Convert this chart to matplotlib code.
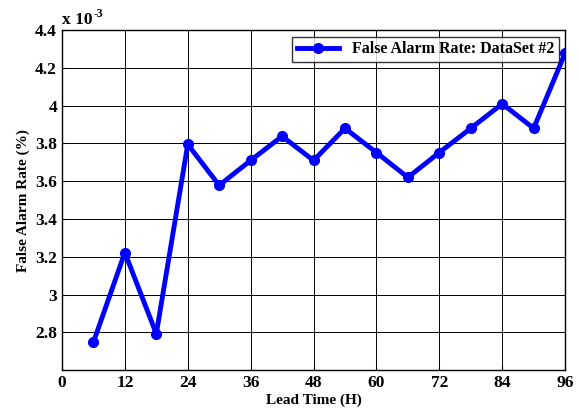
import matplotlib
matplotlib.use("Agg")
import matplotlib.pyplot as plt

lead_time = [6, 12, 18, 24, 30, 36, 42, 48, 54, 60, 66, 72, 78, 84, 90, 96]
far = [2.747, 3.222, 2.792, 3.795, 3.578, 3.710, 3.838, 3.710, 3.880, 3.752,
       3.620, 3.752, 3.880, 4.010, 3.880, 4.278]
xticks = [0, 12, 24, 36, 48, 60, 72, 84, 96]
yticks = [2.8, 3.0, 3.2, 3.4, 3.6, 3.8, 4.0, 4.2, 4.4]
ytick_labels = ["2.8", "3", "3.2", "3.4", "3.6", "3.8", "4", "4.2", "4.4"]

plt.rcParams['font.family'] = ['Liberation Serif', 'DejaVu Serif']
plt.rcParams['font.weight'] = 'bold'

fig = plt.figure(figsize=(5.79, 4.13), dpi=100)
ax = fig.add_axes([0.107, 0.104, 0.869, 0.823])

ax.plot(lead_time, far, color='#0000ff', linewidth=3.5, marker='o',
        markersize=7, label='False Alarm Rate: DataSet #2')

ax.set_xlim(0, 96)
ax.set_ylim(2.6, 4.4)
ax.set_xticks(xticks)
ax.set_xticklabels([str(t) for t in xticks])
ax.set_yticks(yticks)
ax.set_yticklabels(ytick_labels)
ax.tick_params(labelsize=12.5, direction='in', length=3, width=0.8)
for lab in ax.get_xticklabels() + ax.get_yticklabels():
    lab.set_fontweight('bold')
ax.grid(True, color='black', linewidth=0.7, linestyle='-')
for s in ax.spines.values():
    s.set_linewidth(1.0)

ax.set_xlabel('Lead Time (H)', fontsize=11, fontweight='bold', labelpad=2)
ax.set_ylabel('False Alarm Rate (%)', fontsize=11, fontweight='bold', labelpad=4)

ax.text(0.0, 1.005, 'x 10', transform=ax.transAxes, fontsize=12.5,
        fontweight='bold', ha='left', va='bottom')
ax.text(0.063, 1.03, '-3', transform=ax.transAxes, fontsize=8.5,
        fontweight='bold', ha='left', va='bottom')

leg = ax.legend(loc='upper right', fontsize=11.5, frameon=True, fancybox=False,
                borderpad=0.3, handlelength=2.6, borderaxespad=0.4)
leg.get_frame().set_edgecolor('black')
leg.get_frame().set_linewidth(1.0)
for t in leg.get_texts():
    t.set_fontweight('bold')

fig.savefig('out.png', dpi=100)
